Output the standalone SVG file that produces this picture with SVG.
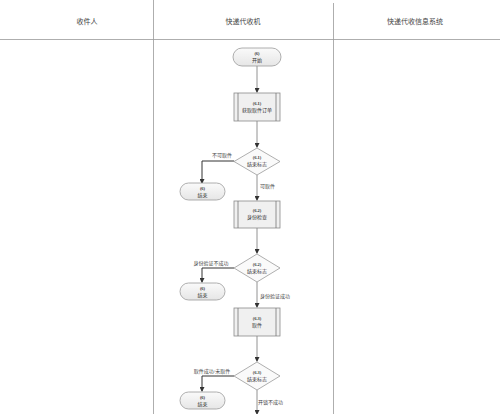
<svg xmlns="http://www.w3.org/2000/svg" width="500" height="414" viewBox="0 0 500 414">
<style>
.hdr{font-family:"Liberation Serif","Noto Sans CJK SC",serif;font-size:7px;fill:#444;text-anchor:middle}
.t{font-family:"Liberation Serif","Noto Sans CJK SC",serif;font-size:5px;fill:#333;text-anchor:middle}
.tb{font-family:"Liberation Serif","Noto Sans CJK SC",serif;font-size:4.5px;font-weight:bold;fill:#333;text-anchor:middle}
.lbl{font-family:"Liberation Serif","Noto Sans CJK SC",serif;font-size:5px;fill:#444}
.term{fill:url(#g);stroke:#9a9a9a;stroke-width:0.8}
.proc{fill:#f0f0f0;stroke:#8a8a8a;stroke-width:0.8}
.dia{fill:#fafafa;stroke:#9a9a9a;stroke-width:0.8}
.ln{fill:none;stroke:#777;stroke-width:0.8}
.lnb{fill:none;stroke:#333;stroke-width:1}
.lane{stroke:#999;stroke-width:0.8}
</style>
<defs>
<linearGradient id="g" x1="0" y1="0" x2="0" y2="1"><stop offset="0" stop-color="#fafafa"/><stop offset="1" stop-color="#e6e6e6"/></linearGradient>
<marker id="a" markerWidth="5" markerHeight="5" refX="4" refY="2.5" orient="auto" markerUnits="userSpaceOnUse"><path d="M0,0 L5,2.5 L0,5 Z" fill="#333"/></marker>
</defs>
<rect width="500" height="414" fill="#fff"/>
<g id="lanes">
<line class="lane" x1="0" y1="39.5" x2="500" y2="39.5"/>
<line class="lane" x1="153.5" y1="0" x2="153.5" y2="414"/>
<line class="lane" x1="333.5" y1="3" x2="333.5" y2="414"/>
<text class="hdr" x="87" y="24">收件人</text>
<text class="hdr" x="243" y="24">快递代收机</text>
<text class="hdr" x="415" y="24">快递代收信息系统</text>
</g>
<g id="connectors">
<path class="ln" d="M257,66 V92" marker-end="url(#a)"/>
<path class="ln" d="M257,121 V147" marker-end="url(#a)"/>
<path class="lnb" d="M234,161 H202 V183" marker-end="url(#a)"/>
<path class="ln" d="M257,175 V200" marker-end="url(#a)"/>
<path class="ln" d="M257,228 V253" marker-end="url(#a)"/>
<path class="lnb" d="M234,268 H202 V282" marker-end="url(#a)"/>
<path class="ln" d="M257,282 V307" marker-end="url(#a)"/>
<path class="ln" d="M257,336 V361" marker-end="url(#a)"/>
<path class="lnb" d="M234,376 H202 V391" marker-end="url(#a)"/>
<path class="ln" d="M257,390 V414" marker-end="url(#a)"/>
<text class="lbl" x="222" y="157" text-anchor="middle">不可取件</text>
<text class="lbl" x="260" y="188">可取件</text>
<text class="lbl" x="211" y="265" text-anchor="middle">身份验证不成功</text>
<text class="lbl" x="260" y="298">身份验证成功</text>
<text class="lbl" x="212" y="373" text-anchor="middle">取件成功/未取件</text>
<text class="lbl" x="258" y="404">开锁不成功</text>
</g>
<g id="start">
<rect class="term" x="233" y="48" width="48" height="18" rx="9"/>
<text class="tb" x="257" y="55">(6)</text>
<text class="t" x="257" y="62">开始</text>
</g>
<g id="p61">
<rect class="proc" x="234" y="93" width="46" height="28"/>
<line class="ln" x1="238" y1="93" x2="238" y2="121"/>
<line class="ln" x1="276" y1="93" x2="276" y2="121"/>
<text class="tb" x="257" y="105">(6.1)</text>
<text class="t" x="257" y="112">获取取件订单</text>
</g>
<g id="d61">
<polygon class="dia" points="257,148 280,161.5 257,175 234,161.5"/>
<text class="tb" x="257" y="159">(6.1)</text>
<text class="t" x="257" y="166">结束标志</text>
</g>
<g id="end1">
<rect class="term" x="180" y="183" width="45" height="17" rx="8.5"/>
<text class="tb" x="202.5" y="190">(6)</text>
<text class="t" x="202.5" y="197">结束</text>
</g>
<g id="p62">
<rect class="proc" x="234" y="201" width="46" height="27"/>
<line class="ln" x1="238" y1="201" x2="238" y2="228"/>
<line class="ln" x1="276" y1="201" x2="276" y2="228"/>
<text class="tb" x="257" y="212">(6.2)</text>
<text class="t" x="257" y="219">身份检查</text>
</g>
<g id="d62">
<polygon class="dia" points="257,254 280,268 257,282 234,268"/>
<text class="tb" x="257" y="266">(6.2)</text>
<text class="t" x="257" y="273">结束标志</text>
</g>
<g id="end2">
<rect class="term" x="180" y="283" width="45" height="17" rx="8.5"/>
<text class="tb" x="202.5" y="290">(6)</text>
<text class="t" x="202.5" y="297">结束</text>
</g>
<g id="p63">
<rect class="proc" x="234" y="308" width="46" height="28"/>
<line class="ln" x1="238" y1="308" x2="238" y2="336"/>
<line class="ln" x1="276" y1="308" x2="276" y2="336"/>
<text class="tb" x="257" y="320">(6.3)</text>
<text class="t" x="257" y="327">取件</text>
</g>
<g id="d63">
<polygon class="dia" points="257,362 280,376 257,390 234,376"/>
<text class="tb" x="257" y="374">(6.3)</text>
<text class="t" x="257" y="381">结束标志</text>
</g>
<g id="end3">
<rect class="term" x="180" y="392" width="45" height="17" rx="8.5"/>
<text class="tb" x="202.5" y="399">(6)</text>
<text class="t" x="202.5" y="406">结束</text>
</g>
</svg>
